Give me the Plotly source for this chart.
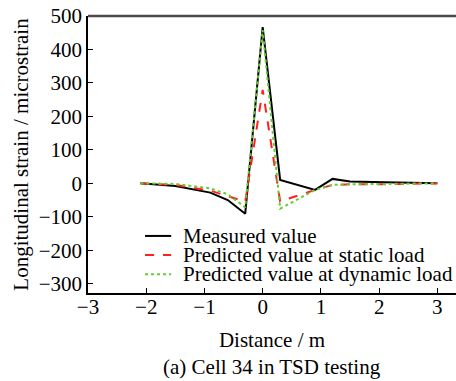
import plotly.graph_objects as go

distance = [-2.1, -1.5, -0.9, -0.6, -0.3, 0.0, 0.3, 0.9, 1.2, 1.5, 2.1, 3.0]
measured = [0, -8, -28, -50, -91, 467, 10, -20, 13, 5, 3, 0]
static_load = [0, -5, -22, -38, -55, 279, -54, -20, -5, -3, -3, 0]
dynamic_load = [0, -2, -15, -33, -72, 458, -76, -20, -5, -3, -2, 0]

series_names = ["Measured value", "Predicted value at static load", "Predicted value at dynamic load"]
series_colors = ["black", "#ff2020", "#66cc33"]
series_dash = ["solid", "dash", "dot"]
series_values = [measured, static_load, dynamic_load]

x_ticks = [-3, -2, -1, 0, 1, 2, 3]
y_ticks = [-300, -200, -100, 0, 100, 200, 300, 400, 500]

font_family = "Liberation Serif, Times New Roman, serif"
FS = 21

fig = go.Figure()
for name, vals, col, dash in zip(series_names, series_values, series_colors, series_dash):
    fig.add_trace(go.Scatter(x=distance, y=vals, mode="lines", name=name,
                             line=dict(color=col, width=2, dash=dash), showlegend=False))

# manual legend (tight line spacing like the reference)
legend_rows_y = [0.206, 0.137, 0.068]
shapes = [dict(type="line", xref="paper", yref="paper", x0=0, x1=1, y0=1, y1=1,
               line=dict(color="#4a4a4a", width=2.5))]
annotations = []
for name, col, dash, yy in zip(series_names, series_colors, series_dash, legend_rows_y):
    shapes.append(dict(type="line", xref="paper", yref="paper", x0=0.155, x1=0.226,
                       y0=yy, y1=yy, line=dict(color=col, width=2, dash=dash)))
    annotations.append(dict(text=name, xref="paper", yref="paper", x=0.252, y=yy,
                            xanchor="left", yanchor="middle", showarrow=False,
                            font=dict(family=font_family, size=FS, color="black")))

annotations.append(dict(text="(a) Cell 34 in TSD testing", xref="paper", yref="paper",
                        x=0.5, y=-0.3177, xanchor="center", yanchor="bottom", showarrow=False,
                        font=dict(family=font_family, size=FS, color="black")))

fig.update_layout(
    width=456, height=381,
    margin=dict(l=88, r=0, t=16, b=88),
    paper_bgcolor="white", plot_bgcolor="white",
    font=dict(family=font_family, size=FS, color="black"),
    showlegend=False,
    xaxis=dict(range=[-3, 3.32], tickvals=x_ticks,
               showgrid=False, zeroline=False, showline=True, linecolor="black", linewidth=1.5,
               ticks="inside", ticklen=5, tickcolor="black", ticklabelstandoff=-6,
               tickfont=dict(family=font_family, size=FS),
               title=dict(text="Distance / m", standoff=14, font=dict(family=font_family, size=FS))),
    yaxis=dict(range=[-328, 500], tickvals=y_ticks,
               showgrid=False, zeroline=False, showline=True, linecolor="black", linewidth=1.5,
               ticks="inside", ticklen=5, tickcolor="black",
               tickfont=dict(family=font_family, size=FS),
               title=dict(text="Longitudinal strain / microstrain", standoff=4,
                          font=dict(family=font_family, size=FS))),
    shapes=shapes,
    annotations=annotations,
)

fig.write_html("out.html")
